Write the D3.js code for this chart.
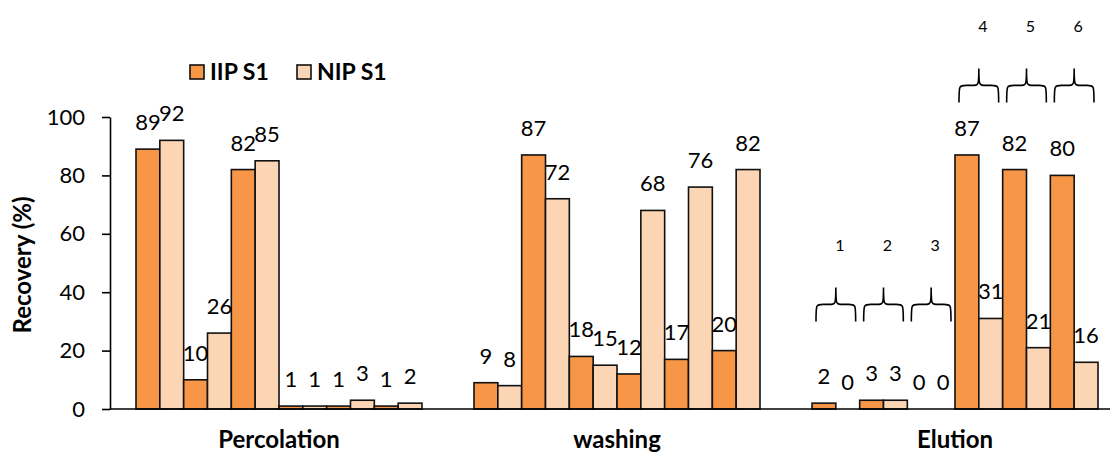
<!DOCTYPE html>
<html>
<head>
<meta charset="utf-8">
<script src="https://cdn.jsdelivr.net/npm/d3@7/dist/d3.min.js"></script>
<style>
  html, body { margin: 0; padding: 0; background: #fff; }
  svg { display: block; font-family: Lato, "Open Sans", sans-serif; }
</style>
</head>
<body>
<svg id="chart" width="1110" height="455"></svg>
<script>
// ---- data ----
const categories = ["Percolation", "washing", "Elution"];
const seriesNames = ["IIP S1", "NIP S1"];
const pairsPerGroup = 6;
const iipValues = [89, 10, 82, 1, 1, 1,   9, 87, 18, 12, 17, 20,   2, 3, 0, 87, 82, 80];
const nipValues = [92, 26, 85, 1, 3, 2,   8, 72, 15, 68, 76, 82,   0, 3, 0, 31, 21, 16];
const yTicks = [0, 20, 40, 60, 80, 100];
const braceLabels = ["1", "2", "3", "4", "5", "6"];
const braceBaseValues = [30, 30, 30, 105, 105, 105]; // brace bottom level (in y-units)

const colors = { "IIP S1": "#F79646", "NIP S1": "#FCD5B5" };

(function () {
// ---- layout ----
const svg = d3.select("#chart");
const plotLeft = 110, plotRight = 1124, plotTop = 117, plotBottom = 409;

const x0 = d3.scaleBand().domain(categories).range([plotLeft, plotRight])
  .paddingInner(52 / 338).paddingOuter(26 / 338);
const x1 = d3.scaleBand().domain(d3.range(pairsPerGroup)).range([0, x0.bandwidth()]);
const x2 = d3.scaleBand().domain(seriesNames).range([0, x1.bandwidth()]);
const y = d3.scaleLinear().domain([0, 100]).range([plotBottom, plotTop]);

// build records
const records = [];
categories.forEach((c, gi) => {
  for (let p = 0; p < pairsPerGroup; p++) {
    const idx = gi * pairsPerGroup + p;
    records.push({ cat: c, pair: p, series: "IIP S1", value: iipValues[idx] });
    records.push({ cat: c, pair: p, series: "NIP S1", value: nipValues[idx] });
  }
});
const bx = d => x0(d.cat) + x1(d.pair) + x2(d.series);

// bars
svg.append("g").selectAll("rect").data(records).join("rect")
  .attr("x", bx)
  .attr("y", d => y(d.value))
  .attr("width", x2.bandwidth())
  .attr("height", d => y(0) - y(d.value))
  .attr("fill", d => colors[d.series])
  .attr("stroke", "#111")
  .attr("stroke-width", 1.6);

// value labels
svg.append("g").selectAll("text").data(records).join("text")
  .attr("x", d => bx(d) + x2.bandwidth() / 2)
  .attr("y", d => y(d.value) - 19)
  .attr("text-anchor", "middle")
  .attr("font-size", 22)
  .attr("fill", "#000")
  .text(d => d.value);

// y axis
const yAxis = d3.axisLeft(y).tickValues(yTicks).tickSize(8).tickPadding(17).tickSizeOuter(0);
const gy = svg.append("g").attr("transform", `translate(${plotLeft},0)`).call(yAxis);
gy.select(".domain").attr("stroke", "#000").attr("stroke-width", 1.6);
gy.selectAll(".tick line").attr("stroke", "#000").attr("stroke-width", 1.6);
gy.selectAll(".tick text").attr("font-size", 22).attr("fill", "#000")
  .attr("font-family", "Lato, sans-serif");

// x baseline
svg.append("line")
  .attr("x1", plotLeft).attr("x2", 1110)
  .attr("y1", y(0)).attr("y2", y(0))
  .attr("stroke", "#000").attr("stroke-width", 1.6);

// category labels
svg.append("g").selectAll("text").data(categories).join("text")
  .attr("x", d => x0(d) + x0.bandwidth() / 2)
  .attr("y", 448)
  .attr("text-anchor", "middle")
  .attr("font-size", 24)
  .attr("font-weight", "bold")
  .attr("fill", "#000")
  .text(d => d);

// y title
svg.append("text")
  .attr("transform", `translate(31,${(plotTop + plotBottom) / 2 + 2}) rotate(-90)`)
  .attr("text-anchor", "middle")
  .attr("font-size", 24)
  .attr("font-weight", "bold")
  .attr("fill", "#000")
  .text("Recovery (%)");

// legend
const legendPos = [190, 297];
const lg = svg.append("g").selectAll("g").data(seriesNames).join("g")
  .attr("transform", (d, i) => `translate(${legendPos[i]},65)`);
lg.append("rect").attr("width", 14).attr("height", 14)
  .attr("fill", d => colors[d]).attr("stroke", "#111").attr("stroke-width", 1.6);
lg.append("text").attr("x", 20).attr("y", 14.5)
  .attr("font-size", 23).attr("font-weight", "bold").attr("fill", "#000")
  .text(d => d);

// braces over Elution pairs
const elution = categories[2];
function bracePath(xa, xb, xm, yb, ym, yt) {
  const q = 7;
  return `M${xa},${yb} C${xa},${ym} ${xa},${ym} ${xa + q},${ym} ` +
         `L${xm - q},${ym} C${xm},${ym} ${xm},${ym} ${xm},${yt} ` +
         `C${xm},${ym} ${xm},${ym} ${xm + q},${ym} ` +
         `L${xb - q},${ym} C${xb},${ym} ${xb},${ym} ${xb},${yb}`;
}
const braces = braceLabels.map((lab, i) => {
  const xa = x0(elution) + x1(i) + 4;
  const xb = x0(elution) + x1(i) + x1.bandwidth() - 4;
  const yb = y(braceBaseValues[i]);
  return { lab, xa, xb, xm: xa + (xb - xa) / 2, yb };
});
svg.append("g").selectAll("path").data(braces).join("path")
  .attr("d", d => bracePath(d.xa, d.xb, d.xm, d.yb, d.yb - 17, d.yb - 34))
  .attr("fill", "none").attr("stroke", "#000").attr("stroke-width", 1.6);
svg.append("g").selectAll("text").data(braces).join("text")
  .attr("x", d => d.xm + 4)
  .attr("y", d => d.yb - 70)
  .attr("text-anchor", "middle")
  .attr("font-size", 16)
  .attr("fill", "#000")
  .text(d => d.lab);
})();
</script>
</body>
</html>
